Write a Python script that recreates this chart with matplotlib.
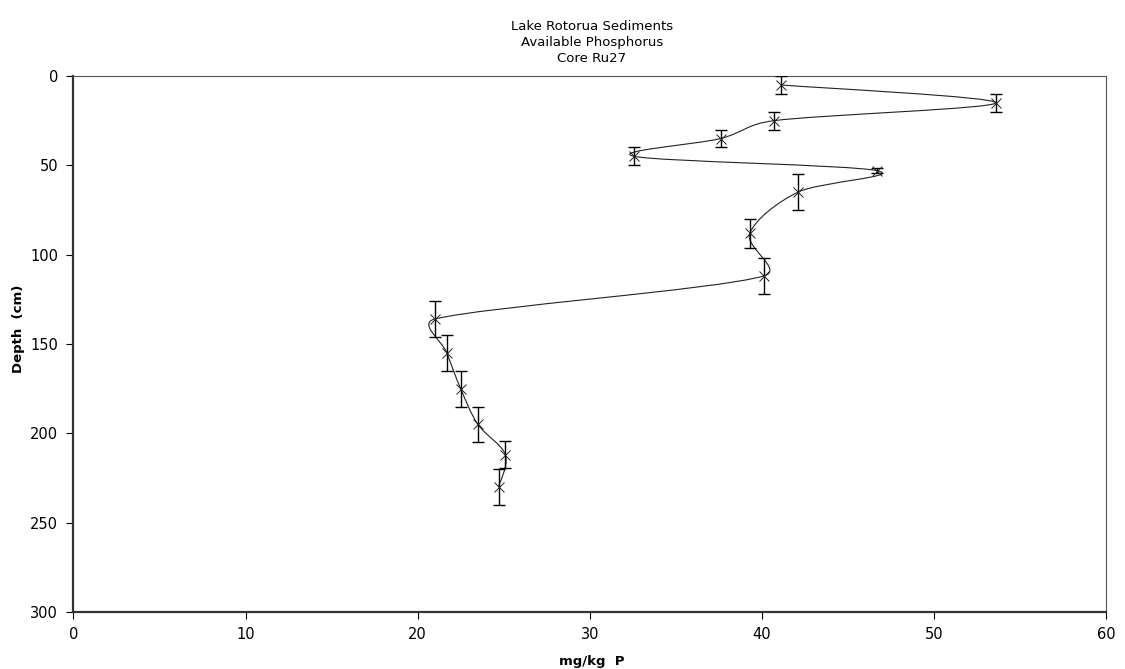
import matplotlib
matplotlib.use("Agg")
import matplotlib.pyplot as plt
import numpy as np
from matplotlib.path import Path
from matplotlib.patches import PathPatch

# ── Data (Core Ru27) ─────────────────────────────────────────────────────────
phos = [41.1, 53.6, 40.7, 37.6, 32.6, 46.7, 42.1, 39.3, 40.1,
        21.0, 21.7, 22.5, 23.5, 25.1, 24.7]          # mg/kg P
depth = [5, 15, 25, 35, 45, 53, 65, 88, 112,
         136, 155, 175, 195, 212, 230]                # cm
depth_err = [5, 5, 5, 5, 5, 1.5, 10, 8, 10,
             10, 10, 10, 10, 7.5, 10]                 # cm

title_lines = ["Lake Rotorua Sediments", "Available Phosphorus", "Core Ru27"]
xticks = [0, 10, 20, 30, 40, 50, 60]
yticks = [0, 50, 100, 150, 200, 250, 300]


def smooth_path(ax, x, y):
    """Excel-like smoothed line, built in screen space then mapped back."""
    pts = ax.transData.transform(np.column_stack([x, y]))
    ext = np.vstack([pts[0], pts, pts[-1]])
    handles_in, handles_out = [], []
    for i in range(1, len(ext) - 1):
        p0, p1, p2 = ext[i - 1], ext[i], ext[i + 1]
        t = (p2 - p0) / 6.0
        n = np.hypot(*t)
        d01 = np.hypot(*(p1 - p0))
        d12 = np.hypot(*(p2 - p1))
        t_in = t * min(1.0, d01 / 2 / n) if n > 0 else t
        t_out = t * min(1.0, d12 / 2 / n) if n > 0 else t
        handles_in.append(p1 - t_in)
        handles_out.append(p1 + t_out)
    verts = [pts[0]]
    codes = [Path.MOVETO]
    for i in range(len(pts) - 1):
        verts += [handles_out[i], handles_in[i + 1], pts[i + 1]]
        codes += [Path.CURVE4] * 3
    verts = ax.transData.inverted().transform(np.array(verts))
    return Path(verts, codes)


fig = plt.figure(figsize=(11.25, 6.69), dpi=100)
ax = fig.add_axes([73.5 / 1125, 1 - 612 / 669, (1106 - 73.5) / 1125, (612 - 76) / 669])

ax.set_xlim(0, 60)
ax.set_ylim(300, 0)

ax.add_patch(PathPatch(smooth_path(ax, phos, depth), facecolor="none",
                       edgecolor="#222222", linewidth=0.8, zorder=2))
ax.errorbar(phos, depth, yerr=depth_err, fmt="none", ecolor="black",
            elinewidth=1.0, capsize=4.5, capthick=1.0, zorder=3)
ax.plot(phos, depth, linestyle="none", marker="x", color="#222222",
        markersize=7, markeredgewidth=0.7, zorder=4)

ax.set_xticks(xticks)
ax.set_yticks(yticks)
ax.tick_params(direction="out", length=5, width=0.8, labelsize=10.5,
               colors="black", pad=6)
for side in ["left", "bottom"]:
    ax.spines[side].set_linewidth(1.6)
    ax.spines[side].set_color("#333333")
for side in ["top", "right"]:
    ax.spines[side].set_linewidth(0.8)
    ax.spines[side].set_color("#555555")

for i, line in enumerate(title_lines):
    fig.text(592 / 1125, 1 - (27 + 15.5 * i) / 669, line, ha="center",
             va="center", fontsize=9.5, family="DejaVu Sans")

fig.text(592 / 1125, 1 - 661 / 669, "mg/kg  P", ha="center", va="center",
         fontsize=9.5, fontweight="bold")
fig.text(19 / 1125, 1 - 329 / 669, "Depth  (cm)", ha="center", va="center",
         rotation=90, fontsize=9.5, fontweight="bold")

fig.savefig("out.png", dpi=100, facecolor="white")
